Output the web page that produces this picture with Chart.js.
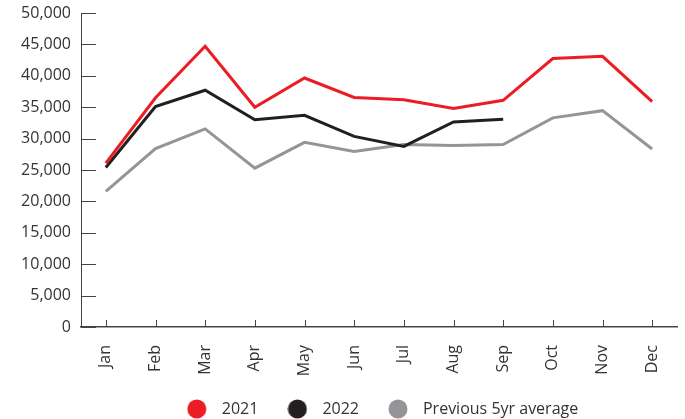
<!DOCTYPE html>
<html>
<head>
<meta charset="utf-8">
<script src="https://cdn.jsdelivr.net/npm/chart.js@4/dist/chart.umd.min.js"></script>
<style>
  html, body { margin: 0; padding: 0; background: #fff; }
  #wrap { width: 685px; height: 419px; }
</style>
</head>
<body>
<div id="wrap"><canvas id="myChart"></canvas></div>
<script>
var months = ["Jan", "Feb", "Mar", "Apr", "May", "Jun", "Jul", "Aug", "Sep", "Oct", "Nov", "Dec"];
var data2021 = [26100, 36500, 44700, 35000, 39650, 36550, 36200, 34800, 36100, 42750, 43100, 35900];
var data2022 = [25400, 35100, 37700, 33000, 33700, 30350, 28750, 32650, 33100];
var data5yr = [21600, 28400, 31550, 25300, 29400, 27950, 29050, 28900, 29050, 33300, 34450, 28350];
var seriesNames = ["2021", "2022", "Previous 5yr average"];
var seriesColors = ["#ed1c24", "#231f20", "#939598"];

var textColor = "#333333";
var axisColor = "#444444";

// legend dot as a small canvas so the gap to the text can be wider
function dot(color) {
  var c = document.createElement('canvas');
  c.width = 20; c.height = 20;
  var g = c.getContext('2d');
  g.fillStyle = color;
  g.beginPath();
  g.arc(10, 10, 9.5, 0, Math.PI * 2);
  g.fill();
  return c;
}

// short tick marks pointing into the plot
var innerTicks = {
  id: 'innerTicks',
  beforeDatasetsDraw(chart) {
    var ctx = chart.ctx;
    var x = chart.scales.x, y = chart.scales.y;
    ctx.save();
    ctx.strokeStyle = axisColor;
    ctx.lineWidth = 1;
    y.ticks.forEach(function(t) {
      var py = Math.round(y.getPixelForValue(t.value)) + 0.5;
      ctx.beginPath();
      ctx.moveTo(y.right, py);
      ctx.lineTo(y.right + 15, py);
      ctx.stroke();
    });
    months.forEach(function(m, i) {
      var px = Math.round(x.getPixelForValue(i)) + 0.5;
      ctx.beginPath();
      ctx.moveTo(px, x.top);
      ctx.lineTo(px, x.top - 7);
      ctx.stroke();
    });
    ctx.restore();
  }
};

var datasets = [data2021, data2022, data5yr].map(function(d, i) {
  return {
    label: seriesNames[i],
    data: d,
    borderColor: seriesColors[i],
    backgroundColor: seriesColors[i],
    borderWidth: 3,
    tension: 0,
    pointRadius: 0,
    pointHoverRadius: 0,
    pointStyle: dot(seriesColors[i]),
    fill: false
  };
});

new Chart("myChart", {
  type: "line",
  data: {
    labels: months,
    datasets: datasets
  },
  options: {
    responsive: true,
    maintainAspectRatio: false,
    animation: false,
    layout: { padding: { top: 13, right: 8, left: 0, bottom: -8 } },
    plugins: {
      legend: {
        position: 'bottom',
        fullSize: false,
        labels: {
          usePointStyle: true,
          pointStyleWidth: 34,
          padding: 22,
          color: textColor,
          font: { family: "'Open Sans'", size: 16 }
        }
      },
      tooltip: { enabled: false }
    },
    scales: {
      x: {
        offset: true,
        grid: { display: false, drawTicks: false },
        border: { display: true, color: axisColor, width: 1.5 },
        ticks: {
          minRotation: 90,
          maxRotation: 90,
          padding: 18,
          color: textColor,
          font: { family: "'Open Sans'", size: 16 }
        },
        afterFit: function(s) { s.height = 52; s.paddingRight = 0; s.paddingLeft = 0; }
      },
      y: {
        min: 0,
        max: 50000,
        grid: { display: false, drawTicks: false },
        border: { display: true, color: axisColor, width: 1 },
        ticks: {
          stepSize: 5000,
          padding: 10,
          color: textColor,
          font: { family: "'Open Sans'", size: 16 },
          callback: function(v) { return v.toLocaleString('en-US'); }
        },
        afterFit: function(s) { s.width = 81; s.paddingTop = 0; }
      }
    }
  },
  plugins: [innerTicks]
});
</script>
</body>
</html>
